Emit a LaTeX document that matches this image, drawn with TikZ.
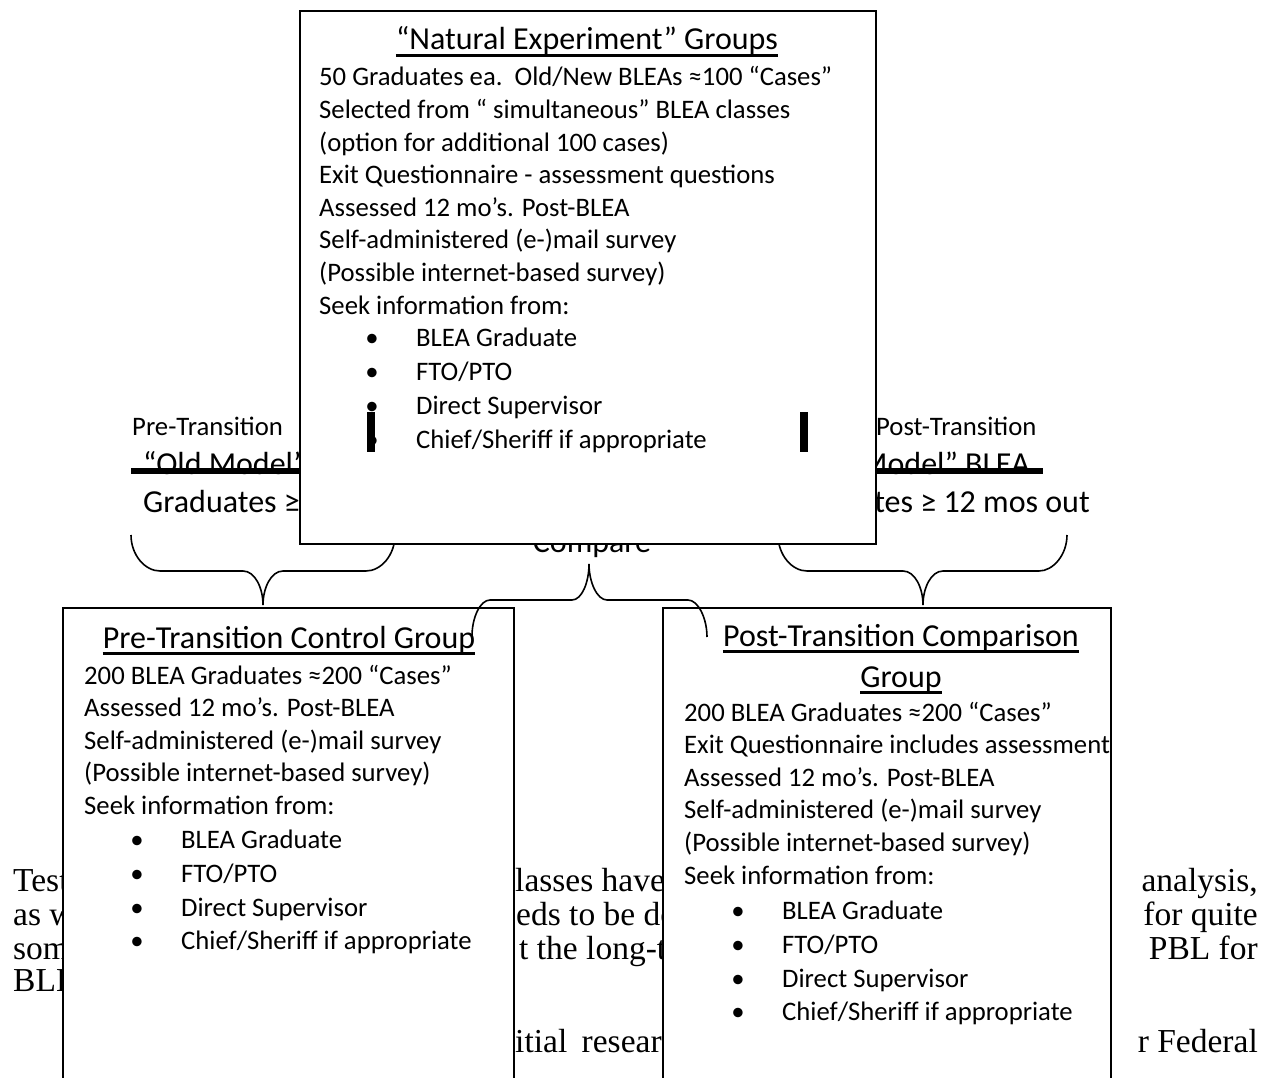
\documentclass[tikz,border=0pt]{standalone}
\usepackage{fontspec}
\setmainfont{Carlito}
\newfontfamily\timesfont{Liberation Serif}

\tikzset{
  gbox/.style={fill=white, inner sep=0pt, anchor=north west},
  body/.style={font=\fontsize{26.7}{32}\selectfont, inner sep=0pt, anchor=base west},
  head/.style={font=\fontsize{32}{39}\selectfont, inner sep=0pt, anchor=base},
  bgtext/.style={font=\timesfont\fontsize{33.5}{34}\selectfont, inner sep=0pt},
  bul/.style={font=\fontsize{26.7}{32}\selectfont, inner sep=0pt, anchor=base},
  curly/.style={line width=1.6pt},
  edge/.style={line width=2pt},
  ul/.style={line width=3pt}
}

\begin{document}
\begin{tikzpicture}[x=1pt, y=-1pt]
	  \useasboundingbox (0,0) rectangle (1270,1078);
	  % page text behind the boxes
	  \node[bgtext, anchor=base west] (pg1) at (13,891) {Test};
	  \node[bgtext, anchor=base west] (pg2) at (13,925) {as w};
	  \node[bgtext, anchor=base west] (pg3) at (13,959) {som};
	  \node[bgtext, anchor=base west] (pg4) at (13,991) {BLE};
	  \node[bgtext, anchor=base west] (pm1) at (515,891) {lasses have};
	  \node[bgtext, anchor=base west] (pm2) at (516,925) {eds to be do};
	  \node[bgtext, anchor=base west] (pm3) at (519,959) {t the long-t};
	  \node[bgtext, anchor=base west] (pm5) at (515,1052) {itial\hspace{6pt} resear};
	  \node[bgtext, anchor=base east] (pr1) at (1258,891) {analysis,};
	  \node[bgtext, anchor=base east] (pr2) at (1258,925) {for quite};
	  \node[bgtext, anchor=base east] (pr3) at (1258,959) {PBL for};
	  \node[bgtext, anchor=base east] (pr5) at (1258,1052) {r Federal};
	  % old model group label
	  \node[body] (old-a) at (132,435) {Pre-Transition};
	  \node[head, anchor=base west] (old-b) at (143,474) {“Old Model”};
	  \draw[line width=6pt](131,470.5) -- (410,470.5);
	  \node[head, anchor=base west] (old-c) at (143,512) {Graduates ≥ 12 mos out};
	  % new model group label
	  \node[body] (new-a) at (876,435) {Post-Transition};
	  \node[head, anchor=base east] (new-b) at (1030,474) {“New Model” BLEA};
	  \draw[line width=6pt](760,470.5) -- (1043,470.5);
	  \node[head, anchor=base east] (new-c) at (1090,512) {Graduates ≥ 12 mos out};
	  \node[head] (cmp) at (592,552) {Compare};
	  % braces under the two labels
	  \draw[curly](131,535) .. controls (131,555) and (145,571) .. (160,571) -- (243,571)
	    .. controls (255,571) and (263,588) .. (263,605)
	    .. controls (263,588) and (271,571) .. (283,571) -- (366,571)
	    .. controls (381,571) and (395,555) .. (395,535);
	  \draw[curly](778,535) .. controls (778,555) and (792,571) .. (807,571) -- (903,571)
	    .. controls (915,571) and (923,588) .. (923,605)
	    .. controls (923,588) and (931,571) .. (943,571) -- (1039,571)
	    .. controls (1053,571) and (1067,555) .. (1067,535);
	  % natural experiment box
	  \node[gbox, draw, edge, minimum width=576pt, minimum height=533pt] (ne) at (299,10) {};
	  \fill(367,412) rectangle (375,452);
	  \fill(800,412) rectangle (808,452);
	  \node[head] (ne-t) at (587,50) {“Natural Experiment” Groups};
	  \draw[ul]([yshift=-5.5pt]ne-t.base west) -- ([yshift=-5.5pt]ne-t.base east);
	  \foreach \ln [count=\i from 0] in {{50 Graduates ea.\ \ Old/New BLEAs ≈100 “Cases”},
	      {Selected from “ simultaneous” BLEA classes}, {(option for additional 100 cases)},
	      {Exit Questionnaire - assessment questions}, {Assessed 12 mo’s. Post-BLEA},
	      {Self-administered (e-)mail survey}, {(Possible internet-based survey)},
	      {Seek information from:}}
	    \node[body] (ne-l\i) at (319,86+32.6*\i) {\ln};
	  \foreach \ln [count=\i from 0] in {{BLEA Graduate}, {FTO/PTO}, {Direct Supervisor},
	      {Chief/Sheriff if appropriate}} {
	    \node[bul] (ne-d\i) at (372,346.5+34*\i) {\textbullet};
	    \node[body] (ne-b\i) at (416,346.5+34*\i) {\ln};
	  }
	  % pre-transition control group box
	  \node[gbox, minimum width=451pt, minimum height=470pt] (pre) at (63,608) {};
	  \draw[edge](pre.south west) |- (pre.north east) -- (pre.south east);
	  \node[head] (pre-t) at (289,648) {Pre-Transition Control Group};
	  \draw[ul]([yshift=-5.5pt]pre-t.base west) -- ([yshift=-5.5pt]pre-t.base east);
	  \foreach \ln [count=\i from 0] in {{200 BLEA Graduates ≈200 “Cases”},
	      {Assessed 12 mo’s. Post-BLEA}, {Self-administered (e-)mail survey},
	      {(Possible internet-based survey)}, {Seek information from:}}
	    \node[body] (pre-l\i) at (84,684+32.6*\i) {\ln};
	  \foreach \ln [count=\i from 0] in {{BLEA Graduate}, {FTO/PTO}, {Direct Supervisor},
	      {Chief/Sheriff if appropriate}} {
	    \node[bul] (pre-d\i) at (137,848.5+33.8*\i) {\textbullet};
	    \node[body] (pre-b\i) at (181,848.5+33.8*\i) {\ln};
	  }
	  % post-transition comparison group box
	  \node[gbox, minimum width=448pt, minimum height=470pt] (post) at (663,608) {};
	  \draw[edge](post.south west) |- (post.north east) -- (post.south east);
	  \node[head] (post-t1) at (901,646) {Post-Transition Comparison};
	  \node[head] (post-t2) at (901,687) {Group};
	  \draw[ul]([yshift=-5.5pt]post-t1.base west) -- ([yshift=-5.5pt]post-t1.base east);
	  \draw[ul]([yshift=-5.5pt]post-t2.base west) -- ([yshift=-5.5pt]post-t2.base east);
	  \foreach \ln [count=\i from 0] in {{200 BLEA Graduates ≈200 “Cases”},
	      {Exit Questionnaire includes assessment}, {Assessed 12 mo’s. Post-BLEA},
	      {Self-administered (e-)mail survey}, {(Possible internet-based survey)},
	      {Seek information from:}}
	    \node[body] (post-l\i) at (684,721+32.6*\i) {\ln};
	  \foreach \ln [count=\i from 0] in {{BLEA Graduate}, {FTO/PTO}, {Direct Supervisor},
	      {Chief/Sheriff if appropriate}} {
	    \node[bul] (post-d\i) at (738,919.5+33.8*\i) {\textbullet};
	    \node[body] (post-b\i) at (782,919.5+33.8*\i) {\ln};
	  }
	  % compare brace between the two groups
	  \draw[curly](472,636) .. controls (472,618) and (480,600) .. (490,600) -- (572,600)
	    .. controls (582,600) and (589,582) .. (589,564)
	    .. controls (589,582) and (597,600) .. (607,600) -- (688,600)
	    .. controls (698,600) and (707,618) .. (707,637);
	\end{tikzpicture}
\end{document}
